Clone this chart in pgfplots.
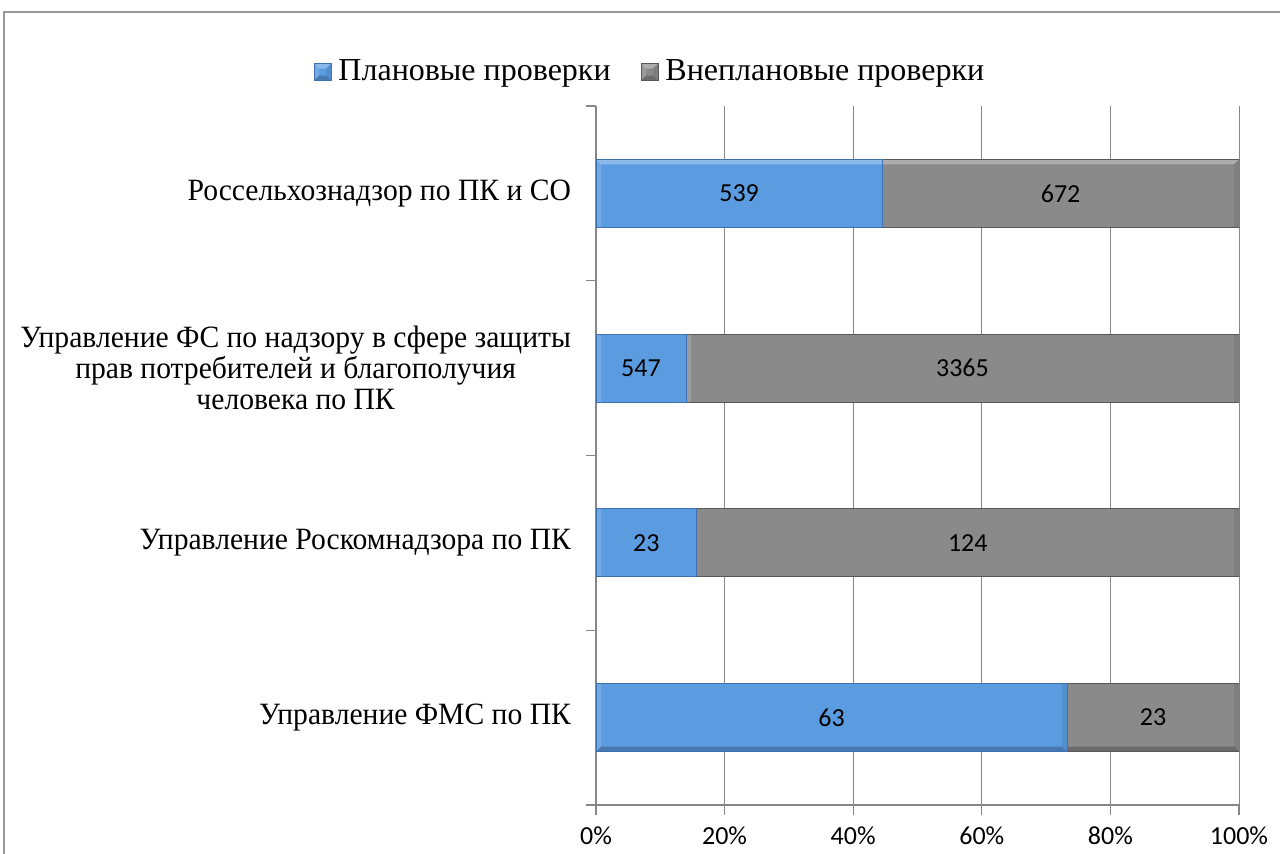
\documentclass[border=0pt]{standalone}
\usepackage{pgfplots}
\pgfplotsset{compat=1.18}
\usepackage{pgfplotstable}
\usepackage{fontspec}
\setmainfont{Liberation Serif}
\newfontfamily\catfont[FakeStretch=0.955]{Liberation Serif}
\newfontfamily\calibri{Carlito}

\definecolor{planblue}{RGB}{91,155,224}
\definecolor{planedge}{RGB}{62,112,178}
\definecolor{vnegray}{RGB}{138,138,138}
\definecolor{vneedge}{RGB}{88,88,88}
\definecolor{gridgray}{RGB}{134,134,134}

% counts per agency: planned / unplanned inspections
\pgfplotstableread{
cat plan unplan
0 63 23
1 23 124
2 547 3365
3 539 672
}\checks

\tikzset{bevel/.style={path picture={
  \path[path picture={}] (path picture bounding box.south west) coordinate (sw)
        (path picture bounding box.north east) coordinate (ne)
        (path picture bounding box.north west) coordinate (nw)
        (path picture bounding box.south east) coordinate (se);
  \fill[path picture={}, draw=none, white, opacity=0.3] (nw) -- (ne) -- ([shift={(-2.5pt,-2.5pt)}]ne) -- ([shift={(2.5pt,-2.5pt)}]nw) -- cycle;
  \fill[path picture={}, draw=none, white, opacity=0.15] (nw) -- (sw) -- ([shift={(2.5pt,2.5pt)}]sw) -- ([shift={(2.5pt,-2.5pt)}]nw) -- cycle;
  \fill[path picture={}, draw=none, black, opacity=0.22] (sw) -- (se) -- ([shift={(-2.5pt,2.5pt)}]se) -- ([shift={(2.5pt,2.5pt)}]sw) -- cycle;
  \fill[path picture={}, draw=none, black, opacity=0.08] (se) -- (ne) -- ([shift={(-2.5pt,-2.5pt)}]ne) -- ([shift={(-2.5pt,2.5pt)}]se) -- cycle;
}}}

\begin{document}
\begin{tikzpicture}[x=1pt,y=1pt]
\useasboundingbox (0,0) rectangle (640,427);
\draw[color=gridgray!85, line width=1pt] (2,-10) -- (2,421) -- (660,421);
\pgfplotsset{chartgeom/.style={
    width=321.5pt, height=349.5pt, scale only axis,
    at={(298pt,24.5pt)}, anchor=south west,
    xmin=0, xmax=100, ymin=-0.5, ymax=3.5}}
\begin{axis}[
    chartgeom,
    xbar stacked,
    bar width=34pt,
    axis x line*=bottom, axis y line*=left,
    x axis line style={draw=gridgray, line width=1pt},
    y axis line style={draw=gridgray, line width=0.8pt},
    xtick={0,20,...,100},
    xticklabel={\pgfmathprintnumber{\tick}\%},
    xticklabel style={font=\calibri\fontsize{13}{15}\selectfont, yshift=-2.5pt},
    /pgf/number format/assume math mode=true,
    xmajorgrids, grid style={gridgray, line width=0.5pt},
    tick align=outside, major tick length=5pt,
    tick style={gridgray, line width=0.6pt},
    ytick={-0.5,0.5,1.5,2.5,3.5}, yticklabels={},
    extra y ticks={0,1,2,3},
    extra y tick labels={Управление ФМС по ПК, Управление Роскомнадзора по ПК,
      {Управление ФС по надзору в сфере защиты\\прав потребителей и благополучия\\человека по ПК},
      Россельхознадзор по ПК и СО},
    extra y tick style={major tick length=0pt},
    yticklabel style={align=center, font=\catfont\fontsize{15.5}{15.5}\selectfont, xshift=-9pt},
    legend style={at={(0.0855,1.0486)}, anchor=center, draw=none, fill=none,
      legend columns=2, font=\fontsize{16}{18}\selectfont,
      /tikz/every odd column/.append style={column sep=1.5pt},
      /tikz/every even column/.append style={column sep=13pt}},
    legend image code/.code={\draw[#1] (0pt,-4.25pt) rectangle (8.5pt,4.25pt);},
]
\addplot[fill=planblue, draw=planedge, bevel] table[y=cat,
    x expr={\thisrow{plan}/(\thisrow{plan}+\thisrow{unplan})*100}] {\checks};
\addplot[fill=vnegray, draw=vneedge, bevel] table[y=cat,
    x expr={\thisrow{unplan}/(\thisrow{plan}+\thisrow{unplan})*100}] {\checks};
\legend{Плановые проверки, Внеплановые проверки}
\end{axis}
\begin{axis}[chartgeom, hide axis, clip=false]
\addplot[draw=none, mark=none, nodes near coords, point meta=explicit symbolic,
    every node near coord/.append style={anchor=center, font=\calibri\fontsize{13}{15}\selectfont}]
    table[y=cat, x expr={\thisrow{plan}/(\thisrow{plan}+\thisrow{unplan})*50}, meta=plan] {\checks};
\addplot[draw=none, mark=none, nodes near coords, point meta=explicit symbolic,
    every node near coord/.append style={anchor=center, font=\calibri\fontsize{13}{15}\selectfont}]
    table[y=cat, x expr={(\thisrow{plan}+0.5*\thisrow{unplan})/(\thisrow{plan}+\thisrow{unplan})*100}, meta=unplan] {\checks};
\end{axis}
\end{tikzpicture}
\end{document}
